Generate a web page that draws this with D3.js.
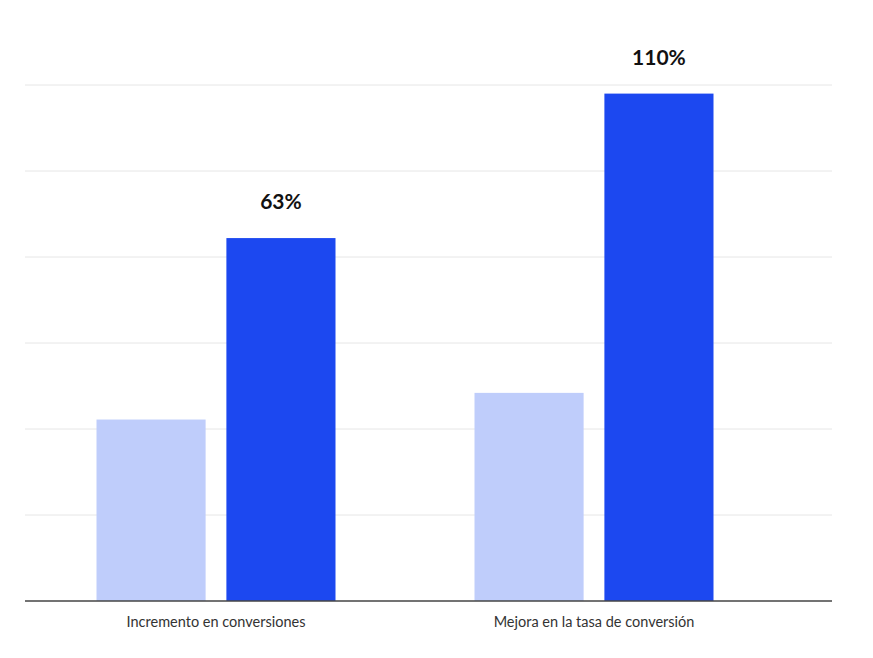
<!DOCTYPE html>
<html><head><meta charset="utf-8">
<script src="https://cdn.jsdelivr.net/npm/d3@7"></script>
<style>body{margin:0;background:#fff}</style></head>
<body><svg id="c" width="873" height="658"></svg>
<script>
const categories = ["Incremento en conversiones", "Mejora en la tasa de conversión"];
const seriesNames = ["Antes", "Después"];
const baseValues = [2.11, 2.42];
const afterValues = [4.22, 5.9];
const afterLabels = ["63%", "110%"];
const gridTicks = [1, 2, 3, 4, 5, 6];
const colors = ["#bfcdfb", "#1c48f0"];

const svg = d3.select("#c");
const y = d3.scaleLinear().domain([0, 6]).range([601, 85]);
const x0 = d3.scaleBand().domain(categories).range([27, 783]).padding(0);
const x1 = d3.scaleBand().domain(seriesNames).range([-119.5, 119.5]).paddingInner(0.16);

svg.selectAll(".grid").data(gridTicks).enter().append("line")
  .attr("x1", 25).attr("x2", 832).attr("y1", d => y(d)).attr("y2", d => y(d))
  .attr("stroke", "#e6e6e6").attr("stroke-width", 1);

const data = categories.map((c, i) => ({c, vals: [baseValues[i], afterValues[i]], label: afterLabels[i]}));
const g = svg.selectAll(".grp").data(data).enter().append("g")
  .attr("transform", d => `translate(${x0(d.c) + x0.bandwidth() / 2},0)`);
g.selectAll("rect").data(d => d.vals.map((v, j) => ({v, s: seriesNames[j], j}))).enter().append("rect")
  .attr("x", d => x1(d.s)).attr("width", x1.bandwidth())
  .attr("y", d => y(d.v)).attr("height", d => y(0) - y(d.v)).attr("fill", d => colors[d.j]);
g.append("text").attr("x", x1(seriesNames[1]) + x1.bandwidth() / 2)
  .attr("y", d => y(d.vals[1]) - 29).attr("text-anchor", "middle")
  .attr("font-family", "Lato, 'Open Sans', sans-serif").attr("font-weight", "bold")
  .attr("font-size", 21).attr("fill", "#111").text(d => d.label);
g.append("text").attr("x", 0).attr("y", 627).attr("text-anchor", "middle")
  .attr("font-family", "Lato, 'Open Sans', sans-serif").attr("font-size", 14.5)
  .attr("fill", "#333").text(d => d.c);

svg.append("line").attr("x1", 25).attr("x2", 832).attr("y1", y(0)).attr("y2", y(0))
  .attr("stroke", "#444").attr("stroke-width", 1.5);
</script></body></html>
